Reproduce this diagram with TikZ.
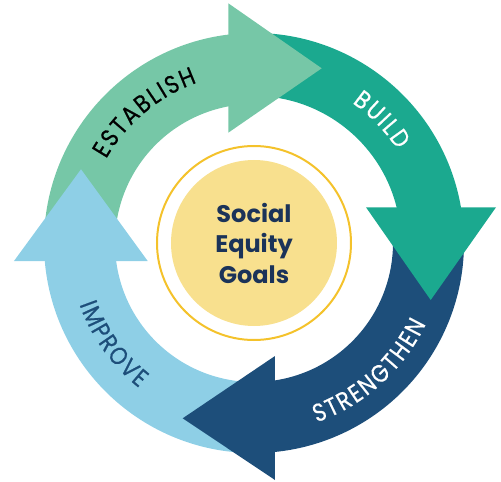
\documentclass[tikz,border=0pt]{standalone}
\usepackage{fontspec}
\setmainfont{Poppins}
\newfontfamily\arcfamily{Poppins}[FakeStretch=0.86, FakeBold=0.5, WordSpace=0.35]
\usepackage{tikz}
\usetikzlibrary{decorations.text}

\definecolor{establishgreen}{HTML}{76C7A7}
\definecolor{buildteal}{HTML}{1BA98F}
\definecolor{strengthenblue}{HTML}{1D4E7A}
\definecolor{improveblue}{HTML}{8ECFE6}
\definecolor{goalyellow}{HTML}{F8E08E}
\definecolor{goalring}{HTML}{F4C22B}
\definecolor{goalnavy}{HTML}{1B3359}

% spaced capitals for the ring labels
\newcommand{\labelfont}{\arcfamily\fontsize{25}{25}\selectfont}

\tikzset{
  arclabel/.style={decorate, decoration={text along path, text align=center, text color=#1}},
}

\begin{document}
\begin{tikzpicture}[x=1pt, y=1pt]
        \useasboundingbox (-254,-239) rectangle (247,243);

        % ring segments
        \fill[establishgreen] (183:210) arc[start angle=183, end angle=95, radius=210] -- (95:139) arc[start angle=95, end angle=183, radius=139] -- cycle;
        \fill[buildteal] (96:210) arc[start angle=96, end angle=6, radius=210] -- (6:147) arc[start angle=6, end angle=96, radius=147] -- cycle;
        \fill[strengthenblue] (9:210) arc[start angle=9, end angle=-89, radius=210] -- (-89:139) arc[start angle=-89, end angle=9, radius=139] -- cycle;
        \fill[improveblue] (274:210) arc[start angle=274, end angle=184, radius=210] -- (184:139) arc[start angle=184, end angle=274, radius=139] -- cycle;

        % arrow heads
        \fill[establishgreen] (-25.7,239.7) -- (67.7,174.7) -- (-25.7,110.3) -- cycle;
        \fill[buildteal] (112,35.7) -- (242,35.7) -- (176.7,-57) -- cycle;
        \fill[strengthenblue] (21,-113) -- (21,-237) -- (-71.3,-175.3) -- cycle;
        \fill[improveblue] (-240,-18) -- (-106.3,-18) -- (-173,73.7) -- cycle;

        % labels
        \path[arclabel=black, decoration={text={|\labelfont|E S T A B L I S H}}] (170:170) arc[start angle=170, end angle=90, radius=170];
        \path[arclabel=white, decoration={text={|\labelfont|B U I L D}}] (84:171) arc[start angle=84, end angle=4, radius=171];
        \path[arclabel=white, decoration={text={|\labelfont|S T R E N G T H E N}}] (-93:190) arc[start angle=-93, end angle=-3, radius=190];
        \path[arclabel=strengthenblue, decoration={text={|\labelfont|I M P R O V E}}] (175:185) arc[start angle=175, end angle=256, radius=185];

        % centre
        \node (goals) [circle, fill=goalyellow, minimum size=166, inner sep=0, text=goalnavy, align=center,
            font=\fontsize{24}{30.5}\selectfont\bfseries] at (0,0) {Social\\Equity\\Goals};
        \draw[goalring, line width=2] (goals.center) circle[radius=97];
    \end{tikzpicture}
\end{document}
